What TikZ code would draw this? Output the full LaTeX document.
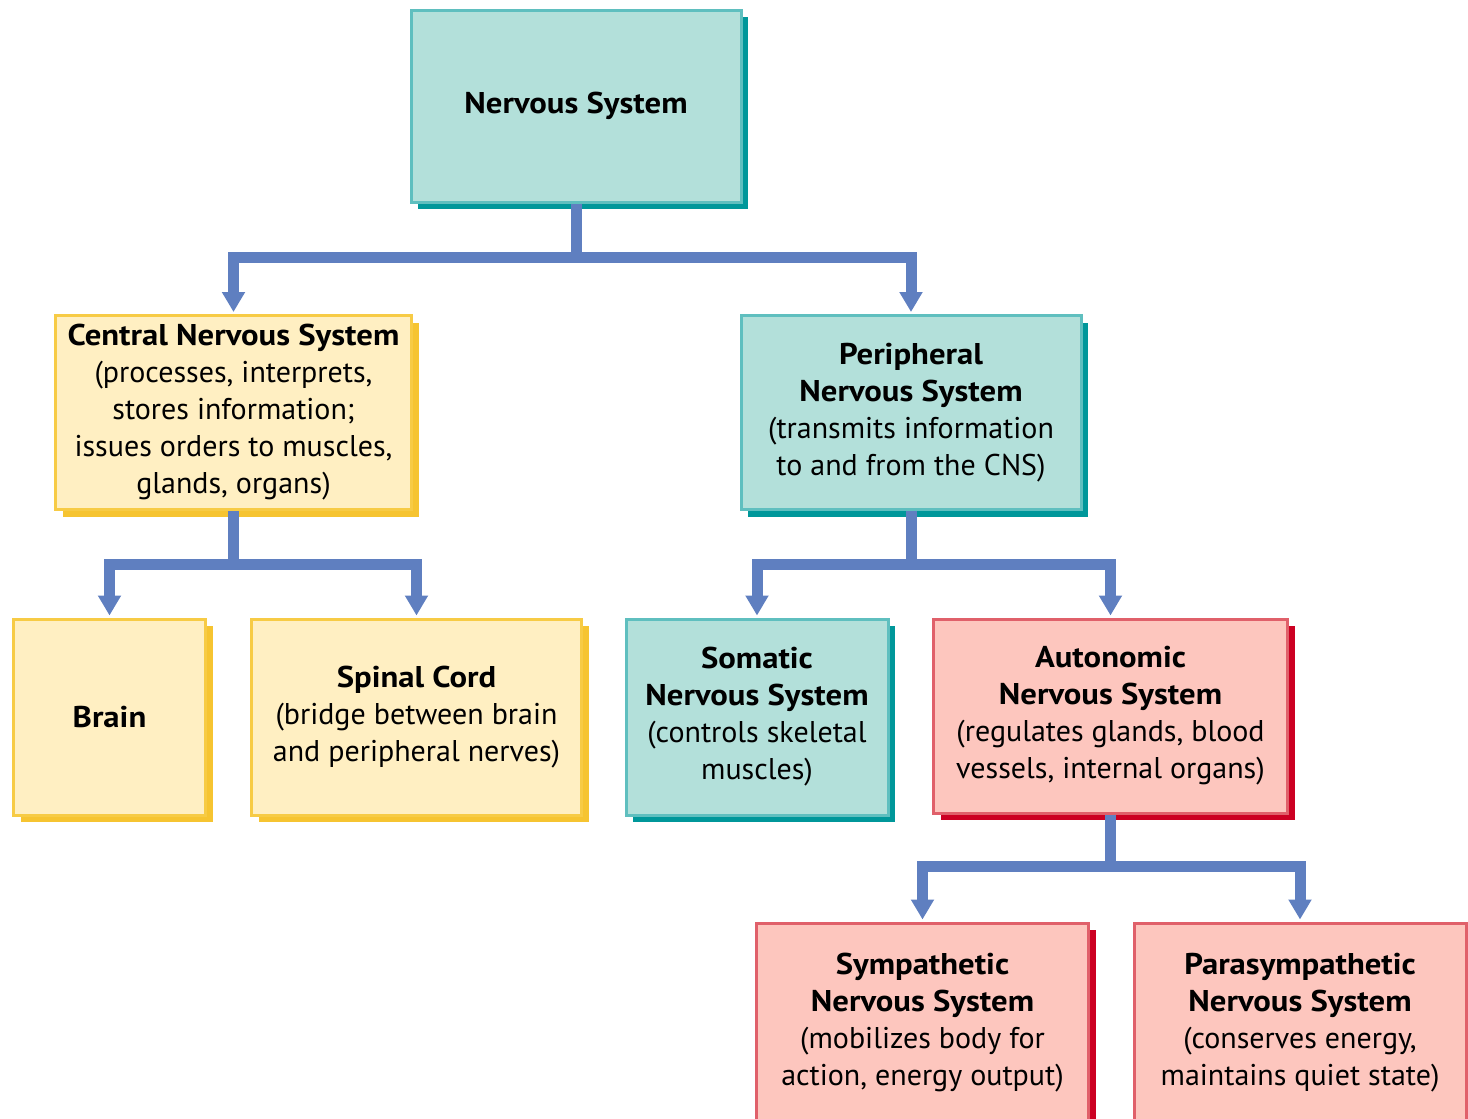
\documentclass[tikz,border=0pt]{standalone}
\usepackage{fontspec}
\setmainfont{PT Sans}[BoldFeatures={FakeStretch=1.09}]
\usepackage{tikz}
\usetikzlibrary{arrows.meta,shadows}

\definecolor{tealfill}{HTML}{B3E0DA}
\definecolor{tealline}{HTML}{5FBFBF}
\definecolor{tealshade}{HTML}{00979A}
\definecolor{sandfill}{HTML}{FFEFC2}
\definecolor{sandline}{HTML}{F7CB45}
\definecolor{sandshade}{HTML}{F6C431}
\definecolor{rosefill}{HTML}{FDC6BE}
\definecolor{roseline}{HTML}{E0606A}
\definecolor{roseshade}{HTML}{CC0022}
\definecolor{linkblue}{HTML}{5F7FC0}

\newcommand{\boxtitle}[1]{{\bfseries #1}}

\begin{document}
\begin{tikzpicture}[x=0.5pt, y=-0.5pt,
  sysbox/.style={rectangle, line width=1.5pt, align=center, inner sep=0pt,
    font=\fontsize{15}{18.5}\selectfont},
  tealbox/.style={sysbox, draw=tealline, fill=tealfill,
    drop shadow={shadow xshift=3.5pt, shadow yshift=-3.5pt, fill=tealshade, opacity=1}},
  sandbox/.style={sysbox, draw=sandline, fill=sandfill,
    drop shadow={shadow xshift=3.5pt, shadow yshift=-3.5pt, fill=sandshade, opacity=1}},
  rosebox/.style={sysbox, draw=roseline, fill=rosefill,
    drop shadow={shadow xshift=3.5pt, shadow yshift=-3.5pt, fill=roseshade, opacity=1}},
  link/.style={draw=linkblue, line width=5.5pt,
    -{Triangle[width=11pt,length=10pt]}, shorten >=1pt}]

\useasboundingbox (0,0) rectangle (1468,1119);

% top level
\node[tealbox, minimum width=165pt, minimum height=96pt](ns) at (576,106) {\boxtitle{Nervous System}};

% second level
\node[sandbox, minimum width=178pt, minimum height=97pt](cns) at (233.5,412.5)
  {\boxtitle{Central Nervous System}\\(processes, interprets,\\stores information;\\issues orders to muscles,\\glands, organs)};
\node[tealbox, minimum width=170pt, minimum height=97pt](pns) at (911,412.5)
  {\boxtitle{Peripheral}\\\boxtitle{Nervous System}\\(transmits information\\to and from the CNS)};

% third level
\node[sandbox, minimum width=96pt, minimum height=98pt](brain) at (109.5,717) {\boxtitle{Brain}};
\node[sandbox, minimum width=165pt, minimum height=98pt](cord) at (416.5,717)
  {\boxtitle{Spinal Cord}\\(bridge between brain\\and peripheral nerves)};
\node[tealbox, minimum width=131pt, minimum height=98pt](somatic) at (757,717)
  {\boxtitle{Somatic}\\\boxtitle{Nervous System}\\(controls skeletal\\muscles)};
\node[rosebox, minimum width=177pt, minimum height=97pt](auto) at (1110.5,716)
  {\boxtitle{Autonomic}\\\boxtitle{Nervous System}\\(regulates glands, blood\\vessels, internal organs)};

% fourth level
\node[rosebox, minimum width=166pt, minimum height=100pt](symp) at (922.5,1023)
  {\boxtitle{Sympathetic}\\\boxtitle{Nervous System}\\(mobilizes body for\\action, energy output)};
\node[rosebox, minimum width=166pt, minimum height=100pt](para) at (1300,1023)
  {\boxtitle{Parasympathetic}\\\boxtitle{Nervous System}\\(conserves energy,\\maintains quiet state)};

% connectors
\draw[link] (ns.south) -- ++(0,54) coordinate (nsj) -| (cns.north);
\draw[link] (nsj) -| (pns.north);
\draw[link] (cns.south) -- ++(0,53) coordinate (cnsj) -| (brain.north);
\draw[link] (cnsj) -| (cord.north);
\draw[link] (pns.south) -- ++(0,53) coordinate (pnsj) -| (somatic.north);
\draw[link] (pnsj) -| (auto.north);
\draw[link] (auto.south) -- ++(0,52) coordinate (autoj) -| (symp.north);
\draw[link] (autoj) -| (para.north);
\end{tikzpicture}
\end{document}
